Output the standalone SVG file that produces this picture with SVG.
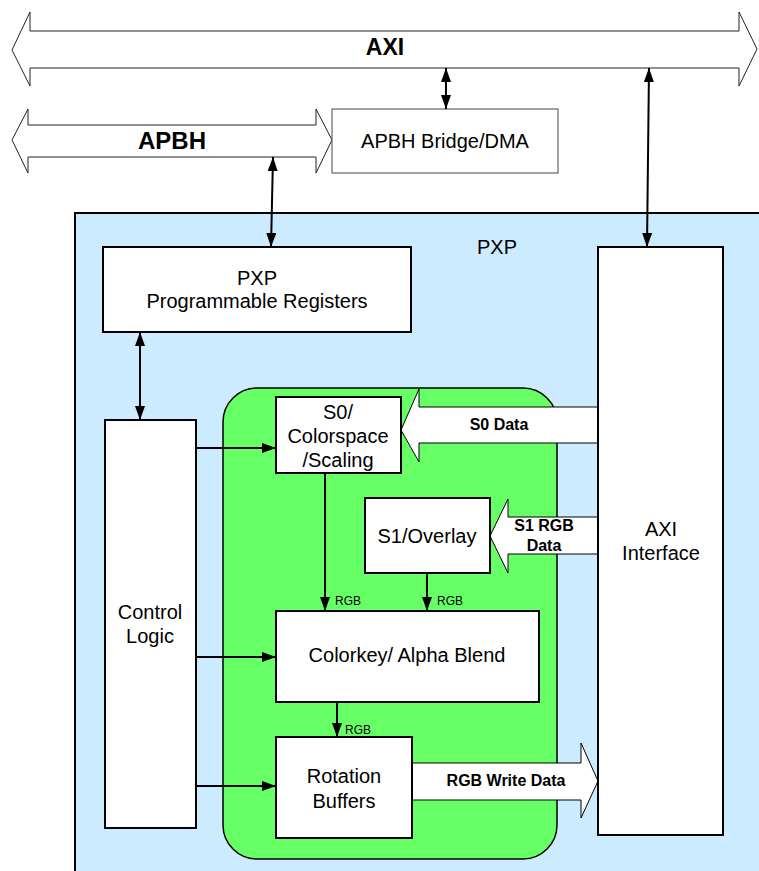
<svg xmlns="http://www.w3.org/2000/svg" width="759" height="871" viewBox="0 0 759 871">
<style>
text{font-family:"Liberation Sans",Arial,sans-serif;fill:#000;text-anchor:middle;dominant-baseline:central}
.box{fill:#fff;stroke:#000;stroke-width:2}
.bus{fill:#fff;stroke:#222;stroke-width:1}
.lbl{font-size:20px}
.bold{font-weight:bold}
.bl{font-weight:bold;font-size:16px}
.small{font-size:12px;text-anchor:start}
.conn{stroke:#000;stroke-width:2;fill:none}
</style>
<defs>
<marker id="ah" viewBox="0 0 14 10" refX="14" refY="5" markerWidth="14" markerHeight="10" markerUnits="userSpaceOnUse" orient="auto-start-reverse">
<path d="M0,0 L14,5 L0,10 Z" fill="#000"/>
</marker>
</defs>

<g id="axi-bus">
<path class="bus" d="M12,50 L30,12 L30,31 L739,31 L739,12 L757,49 L739,86 L739,68 L30,68 L30,86 Z"/>
<text x="385" y="47" class="bold" font-size="23">AXI</text>
</g>

<g id="apbh-bus">
<path class="bus" d="M12,140 L28,109 L28,125 L316,125 L316,109 L332,140 L316,173 L316,157 L28,157 L28,173 Z"/>
<text x="172" y="140" class="bold" font-size="24">APBH</text>
</g>

<g id="apbh-bridge">
<rect x="332" y="109" width="226" height="64" fill="#fff" stroke="#444" stroke-width="1"/>
<text x="445" y="141" class="lbl">APBH Bridge/DMA</text>
</g>

<g id="pxp">
<rect x="75" y="213" width="720" height="700" fill="#CCEBFF" stroke="#000" stroke-width="2"/>
<text x="497" y="247" class="lbl">PXP</text>
</g>

<g id="pipeline">
<rect x="223" y="388" width="334" height="471" rx="34" ry="34" fill="#66FF66" stroke="#000" stroke-width="1.5"/>
</g>

<g id="s0-data">
<path d="M598,407 L419,407 L419,389 L401,430 L419,462 L419,443 L598,443" fill="#fff" stroke="#000" stroke-width="1"/>
<text x="499" y="424" class="bl">S0 Data</text>
</g>

<g id="s1-data">
<path d="M598,517 L508,517 L508,499 L490,536 L508,573 L508,554 L598,554" fill="#fff" stroke="#000" stroke-width="1"/>
<text x="544" y="525" class="bl">S1 RGB</text>
<text x="544" y="545" class="bl">Data</text>
</g>

<g id="rgb-write">
<path d="M412,763 L581,763 L581,743 L598,781 L581,818 L581,800 L412,800" fill="#fff" stroke="#000" stroke-width="1"/>
<text x="506" y="780" class="bl">RGB Write Data</text>
</g>

<g id="registers">
<rect class="box" x="103" y="247" width="308" height="85"/>
<text x="257" y="278" class="lbl">PXP</text>
<text x="257" y="301" class="lbl">Programmable Registers</text>
</g>

<g id="axi-interface">
<rect class="box" x="598" y="247" width="125" height="588"/>
<text x="661" y="529" class="lbl">AXI</text>
<text x="661" y="553" class="lbl">Interface</text>
</g>

<g id="control-logic">
<rect class="box" x="105" y="420" width="91" height="408"/>
<text x="150" y="612" class="lbl">Control</text>
<text x="150" y="636" class="lbl">Logic</text>
</g>

<g id="s0">
<rect class="box" x="276" y="397" width="125" height="76"/>
<text x="338" y="412" class="lbl">S0/</text>
<text x="338" y="436" class="lbl">Colorspace</text>
<text x="338" y="460" class="lbl">/Scaling</text>
</g>

<g id="s1">
<rect class="box" x="365" y="498" width="125" height="75"/>
<text x="427" y="536" class="lbl">S1/Overlay</text>
</g>

<g id="colorkey">
<rect class="box" x="276" y="611" width="263" height="91"/>
<text x="407" y="655" class="lbl">Colorkey/ Alpha Blend</text>
</g>

<g id="rotation">
<rect class="box" x="276" y="737" width="136" height="101"/>
<text x="344" y="776" class="lbl">Rotation</text>
<text x="344" y="801" class="lbl">Buffers</text>
</g>

<g id="connectors">
<line class="conn" x1="446" y1="68" x2="446" y2="109" marker-start="url(#ah)" marker-end="url(#ah)"/>
<line class="conn" x1="649" y1="68" x2="647" y2="247" marker-start="url(#ah)" marker-end="url(#ah)"/>
<line class="conn" x1="273" y1="157" x2="271" y2="247" marker-start="url(#ah)" marker-end="url(#ah)"/>
<line class="conn" x1="140" y1="332" x2="140" y2="420" marker-start="url(#ah)" marker-end="url(#ah)"/>
<line class="conn" x1="196" y1="448" x2="276" y2="448" marker-end="url(#ah)"/>
<line class="conn" x1="196" y1="657" x2="276" y2="657" marker-end="url(#ah)"/>
<line class="conn" x1="196" y1="786" x2="276" y2="786" marker-end="url(#ah)"/>
<line class="conn" x1="325" y1="473" x2="325" y2="611" marker-end="url(#ah)"/>
<line class="conn" x1="427" y1="573" x2="427" y2="611" marker-end="url(#ah)"/>
<line class="conn" x1="337" y1="702" x2="337" y2="737" marker-end="url(#ah)"/>
<text x="335" y="601" class="small">RGB</text>
<text x="437" y="601" class="small">RGB</text>
<text x="345" y="730" class="small">RGB</text>
</g>
</svg>
